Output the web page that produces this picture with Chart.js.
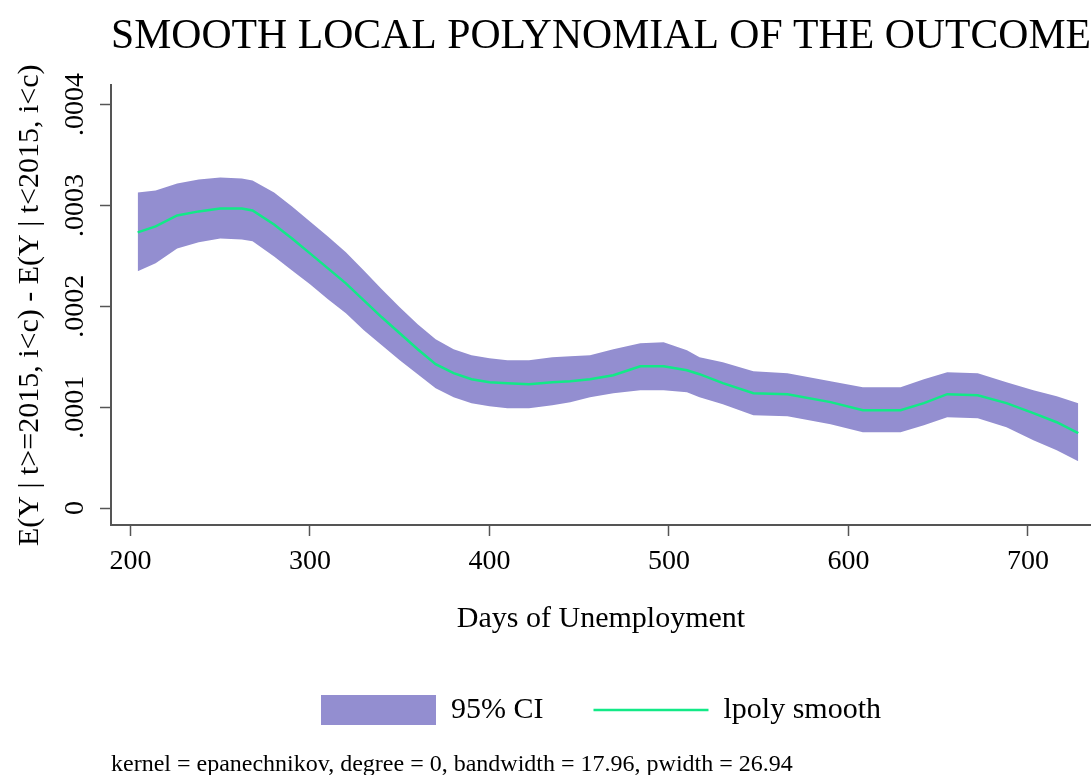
<!DOCTYPE html>
<html>
<head>
<meta charset="utf-8">
<title>Smooth local polynomial of the outcome</title>
<script src="https://cdn.jsdelivr.net/npm/chart.js@4.4.1/dist/chart.umd.min.js"></script>
<style>
    html, body { margin: 0; padding: 0; background: #fff; overflow: hidden; }
    #wrap { width: 1091px; height: 775px; }
</style>
</head>
<body>
<div id="wrap"><canvas id="chart" width="1091" height="775"></canvas></div>
<script>
// Dias de desempleo evaluados por lpoly
const days = [204, 214, 226, 238, 250, 262, 268, 280, 290, 300,
    310, 320, 330, 340, 350, 360, 370, 380, 390, 400,
    410, 422, 435, 445, 456, 469, 484, 497, 510, 517,
    530, 547, 566, 590, 608, 629, 642, 655, 672, 688,
    703, 716, 728];

// Estimacion suavizada
const smooth = [2.733e-4, 2.792e-4, 2.901e-4, 2.941e-4, 2.970e-4, 2.970e-4, 2.950e-4, 2.812e-4, 2.673e-4, 2.525e-4,
    2.376e-4, 2.228e-4, 2.059e-4, 1.891e-4, 1.733e-4, 1.574e-4, 1.426e-4, 1.337e-4, 1.277e-4, 1.248e-4,
    1.238e-4, 1.228e-4, 1.248e-4, 1.257e-4, 1.277e-4, 1.317e-4, 1.406e-4, 1.406e-4, 1.366e-4, 1.327e-4,
    1.238e-4, 1.139e-4, 1.129e-4, 1.050e-4, 0.970e-4, 0.970e-4, 1.040e-4, 1.129e-4, 1.119e-4, 1.040e-4,
    0.941e-4, 0.851e-4, 0.743e-4];

// Intervalo de confianza 95%
const ciUpper = [3.129e-4, 3.149e-4, 3.218e-4, 3.257e-4, 3.277e-4, 3.267e-4, 3.248e-4, 3.129e-4, 2.990e-4, 2.842e-4,
    2.693e-4, 2.535e-4, 2.356e-4, 2.168e-4, 1.990e-4, 1.822e-4, 1.673e-4, 1.574e-4, 1.515e-4, 1.485e-4,
    1.465e-4, 1.465e-4, 1.495e-4, 1.505e-4, 1.515e-4, 1.574e-4, 1.634e-4, 1.644e-4, 1.564e-4, 1.495e-4,
    1.446e-4, 1.356e-4, 1.337e-4, 1.257e-4, 1.198e-4, 1.198e-4, 1.277e-4, 1.347e-4, 1.337e-4, 1.248e-4,
    1.168e-4, 1.109e-4, 1.040e-4];
const ciLower = [2.347e-4, 2.426e-4, 2.574e-4, 2.634e-4, 2.673e-4, 2.663e-4, 2.644e-4, 2.495e-4, 2.356e-4, 2.218e-4,
    2.069e-4, 1.931e-4, 1.762e-4, 1.614e-4, 1.465e-4, 1.327e-4, 1.188e-4, 1.099e-4, 1.040e-4, 1.010e-4,
    0.990e-4, 0.990e-4, 1.020e-4, 1.050e-4, 1.099e-4, 1.139e-4, 1.168e-4, 1.168e-4, 1.149e-4, 1.099e-4,
    1.030e-4, 0.921e-4, 0.911e-4, 0.832e-4, 0.752e-4, 0.752e-4, 0.822e-4, 0.901e-4, 0.891e-4, 0.802e-4,
    0.673e-4, 0.574e-4, 0.465e-4];

const xTicks = [200, 300, 400, 500, 600, 700];
const yTicks = [0, 0.0001, 0.0002, 0.0003, 0.0004];

const titleText = "SMOOTH LOCAL POLYNOMIAL OF THE OUTCOME";
const xTitle = "Days of Unemployment";
const yTitle = "E(Y | t>=2015, i<c) - E(Y | t<2015, i<c)";
const noteText = "kernel = epanechnikov, degree = 0, bandwidth = 17.96, pwidth = 26.94";
const legendLabels = ["95% CI", "lpoly smooth"];

const serif = "'Liberation Serif', 'Times New Roman', serif";
const bandColor = "#938ed0";
const lineColor = "#12e987";
const axisColor = "#555555";

Chart.defaults.font.family = serif;
Chart.defaults.color = "#000";

const toPoints = (ys) => days.map((d, i) => ({x: d, y: ys[i]}));

const stataTick = (v) => {
    if (Math.abs(v) < 1e-12) return "0";
    return v.toFixed(4).replace(/^0\./, ".");
};

new Chart(document.getElementById("chart"), {
    type: "line",
    data: {
        datasets: [
            {
                label: legendLabels[1],
                data: toPoints(smooth),
                borderColor: lineColor,
                borderWidth: 2.5,
                pointRadius: 0,
                tension: 0,
                fill: false,
            },
            {
                label: "lower",
                data: toPoints(ciLower),
                borderColor: "transparent",
                borderWidth: 0,
                pointRadius: 0,
                tension: 0,
                fill: false,
            },
            {
                label: legendLabels[0],
                data: toPoints(ciUpper),
                borderColor: "transparent",
                backgroundColor: bandColor,
                borderWidth: 0,
                pointRadius: 0,
                tension: 0,
                fill: "-1",
            },
        ],
    },
    options: {
        responsive: false,
        animation: false,
        events: [],
        layout: { padding: 0 },
        scales: {
            x: {
                type: "linear",
                position: "bottom",
                min: 189.14,
                max: 735.1,
                afterBuildTicks: (s) => { s.ticks = xTicks.map((v) => ({value: v})); },
                afterFit: (s) => { s.height = 120; },
                ticks: {
                    font: { size: 28 },
                    color: "#000",
                    padding: 9,
                    maxRotation: 0,
                    autoSkip: false,
                },
                grid: {
                    drawOnChartArea: false,
                    drawTicks: true,
                    tickLength: 11,
                    tickWidth: 1.5,
                    tickColor: axisColor,
                },
                border: { display: true, color: axisColor, width: 2 },
                title: {
                    display: true,
                    text: xTitle,
                    font: { size: 30 },
                    color: "#000",
                    padding: { top: 0, bottom: 8 },
                },
            },
            y: {
                type: "linear",
                min: -0.0000168,
                max: 0.000419,
                afterBuildTicks: (s) => { s.ticks = yTicks.map((v) => ({value: v})); },
                afterFit: (s) => { s.width = 111; },
                ticks: {
                    font: { size: 28 },
                    color: "#000",
                    minRotation: 90,
                    maxRotation: 90,
                    crossAlign: "center",
                    padding: -7,
                    autoSkip: false,
                    callback: stataTick,
                },
                grid: {
                    drawOnChartArea: false,
                    drawTicks: true,
                    tickLength: 11,
                    tickWidth: 1.5,
                    tickColor: axisColor,
                },
                border: { display: true, color: axisColor, width: 2 },
                title: {
                    display: true,
                    text: yTitle,
                    font: { size: 30 },
                    color: "#000",
                    padding: { top: 12, bottom: 0 },
                },
            },
        },
        plugins: {
            title: {
                display: true,
                text: titleText,
                fullSize: false,
                color: "#000",
                font: { size: 42, weight: "normal" },
                padding: { top: 12, bottom: 23 },
            },
            subtitle: {
                display: true,
                text: noteText,
                position: "bottom",
                align: "start",
                fullSize: false,
                color: "#000",
                font: { size: 24, lineHeight: 1 },
                padding: { top: 18, bottom: -2 },
            },
            legend: {
                display: true,
                position: "bottom",
                fullSize: false,
                labels: {
                    usePointStyle: true,
                    pointStyleWidth: 115,
                    boxHeight: 30,
                    padding: 50,
                    color: "#000",
                    font: { size: 30 },
                    generateLabels: () => [
                        { text: legendLabels[0], fillStyle: bandColor, strokeStyle: bandColor, lineWidth: 0, pointStyle: "rect", hidden: false, datasetIndex: 2 },
                        { text: legendLabels[1], fillStyle: lineColor, strokeStyle: lineColor, lineWidth: 2.5, pointStyle: "line", hidden: false, datasetIndex: 0 },
                    ],
                },
            },
            tooltip: { enabled: false },
        },
    },
});
</script>
</body>
</html>
